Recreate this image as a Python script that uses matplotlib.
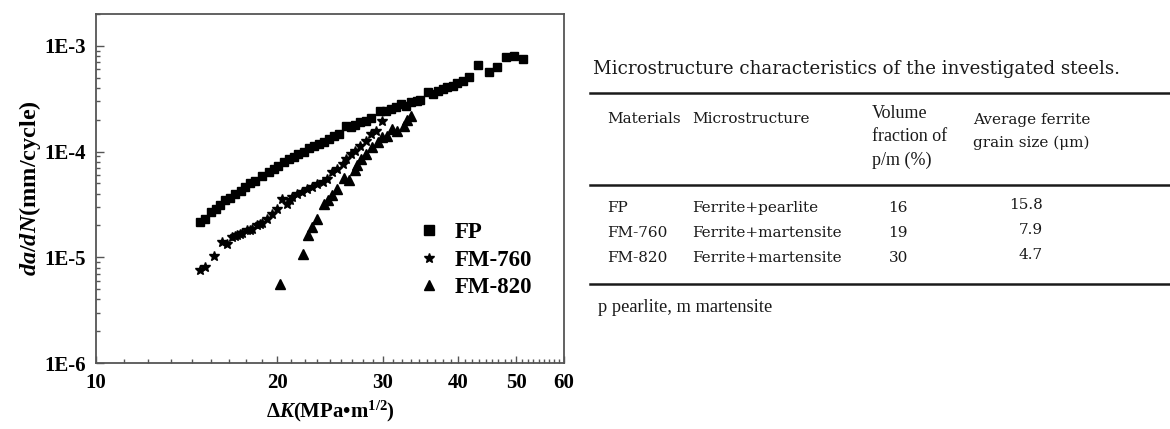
import matplotlib
matplotlib.use('Agg')
import matplotlib.pyplot as plt
from matplotlib.lines import Line2D
from matplotlib.ticker import FixedLocator, FuncFormatter, LogLocator, NullFormatter
import numpy as np

# crack growth data
fp_dk = [14.9, 15.2, 15.5, 15.8, 16.1, 16.4, 16.7, 17.05, 17.4, 17.7, 18.05, 18.4, 18.9,
         19.4, 19.75, 20.1, 20.5, 20.9, 21.3, 21.7, 22.2, 22.6, 23.0, 23.5, 23.9, 24.4,
         24.9, 25.3, 26.0, 26.5, 27.0, 27.5, 28.1, 28.6, 29.7, 30.3, 30.9, 31.5, 32.1,
         32.7, 33.4, 34.2, 34.6, 35.6, 36.3, 37.0, 37.7, 38.4, 39.2, 39.9, 40.7, 41.7,
         43.1, 45.1, 46.5, 48.0, 49.6, 51.2]
fp_rate = [2.15e-5, 2.32e-5, 2.67e-5, 2.88e-5, 3.10e-5, 3.45e-5, 3.66e-5, 3.93e-5, 4.28e-5,
           4.60e-5, 5.02e-5, 5.32e-5, 5.81e-5, 6.38e-5, 6.87e-5, 7.38e-5, 7.93e-5, 8.53e-5,
           8.84e-5, 9.51e-5, 1.00e-4, 1.08e-4, 1.14e-4, 1.18e-4, 1.24e-4, 1.32e-4, 1.39e-4,
           1.47e-4, 1.76e-4, 1.69e-4, 1.79e-4, 1.89e-4, 1.96e-4, 2.08e-4, 2.40e-4, 2.44e-4,
           2.53e-4, 2.62e-4, 2.82e-4, 2.72e-4, 2.92e-4, 3.03e-4, 3.05e-4, 3.63e-4, 3.50e-4,
           3.76e-4, 3.90e-4, 4.04e-4, 4.19e-4, 4.41e-4, 4.67e-4, 5.10e-4, 6.62e-4, 5.60e-4,
           6.24e-4, 7.87e-4, 8.05e-4, 7.49e-4]

fm760_dk = [14.9, 15.2, 15.7, 16.2, 16.5, 16.8, 17.0, 17.15, 17.35, 17.5, 17.8, 18.0, 18.2,
            18.5, 18.7, 18.9, 19.25, 19.6, 20.0, 20.4, 20.8, 21.0, 21.2, 21.6, 22.0, 22.4,
            22.9, 23.3, 23.8, 24.2, 24.7, 25.2, 25.7, 26.0, 26.5, 27.0, 27.5, 28.1, 28.6,
            29.2, 29.9]
fm760_rate = [7.53e-6, 8.11e-6, 1.02e-5, 1.40e-5, 1.33e-5, 1.56e-5, 1.58e-5, 1.64e-5,
              1.66e-5, 1.69e-5, 1.80e-5, 1.82e-5, 1.86e-5, 2.00e-5, 2.05e-5, 2.11e-5,
              2.32e-5, 2.58e-5, 2.88e-5, 3.58e-5, 3.21e-5, 3.45e-5, 3.71e-5, 3.93e-5,
              4.13e-5, 4.45e-5, 4.60e-5, 4.88e-5, 5.13e-5, 5.52e-5, 6.38e-5, 6.87e-5,
              7.65e-5, 8.53e-5, 9.51e-5, 1.02e-4, 1.14e-4, 1.27e-4, 1.45e-4, 1.56e-4,
              1.96e-4]

fm820_dk = [20.2, 22.1, 22.5, 22.9, 23.3, 23.9, 24.3, 24.7, 25.2, 25.8, 26.3, 26.9, 27.2,
            27.6, 28.1, 28.8, 29.4, 29.9, 30.5, 31.1, 31.7, 32.5, 32.9, 33.4]
fm820_rate = [5.65e-6, 1.08e-5, 1.61e-5, 1.93e-5, 2.28e-5, 3.21e-5, 3.50e-5, 3.85e-5,
              4.38e-5, 5.65e-5, 5.41e-5, 6.62e-5, 7.54e-5, 8.53e-5, 9.51e-5, 1.10e-4,
              1.22e-4, 1.36e-4, 1.39e-4, 1.64e-4, 1.58e-4, 1.76e-4, 1.99e-4, 2.19e-4]

# table contents
title = 'Microstructure characteristics of the investigated steels.'
materials = ['FP', 'FM-760', 'FM-820']
microstructure = ['Ferrite+pearlite', 'Ferrite+martensite', 'Ferrite+martensite']
volume_fraction = ['16', '19', '30']
grain_size = ['15.8', '7.9', '4.7']
footnote = 'p pearlite, m martensite'

plt.rcParams['mathtext.fontset'] = 'custom'
plt.rcParams['mathtext.rm'] = 'Liberation Serif:bold'
plt.rcParams['mathtext.it'] = 'Liberation Serif:italic:bold'
plt.rcParams['mathtext.bf'] = 'Liberation Serif:bold'

fig = plt.figure(figsize=(11.7, 4.29), dpi=100)
ax = fig.add_axes([0.0821, 0.1538, 0.4, 0.8136])

ax.plot(fp_dk, fp_rate, 's', color='black', ms=6, label='FP')
ax.plot(fm760_dk, fm760_rate, '*', color='black', ms=7, label='FM-760')
ax.plot(fm820_dk, fm820_rate, '^', color='black', ms=6.5, label='FM-820')

ax.set_xscale('log')
ax.set_yscale('log')
ax.set_xlim(10, 60)
ax.set_ylim(1e-6, 2e-3)

xmaj = [10, 20, 30, 40, 50, 60]
xmin = []
for a, b in zip(xmaj[:-1], xmaj[1:]):
    xmin += list(np.linspace(a, b, 10)[1:-1])
ax.xaxis.set_major_locator(FixedLocator(xmaj))
ax.xaxis.set_minor_locator(FixedLocator(xmin))
ax.xaxis.set_major_formatter(FuncFormatter(lambda v, p: '%d' % round(v)))
ax.xaxis.set_minor_formatter(NullFormatter())

ax.yaxis.set_major_locator(FixedLocator([1e-6, 1e-5, 1e-4, 1e-3]))
ax.yaxis.set_minor_locator(LogLocator(base=10, subs=np.arange(2, 10)))
ax.yaxis.set_major_formatter(FuncFormatter(lambda v, p: '1E%d' % round(np.log10(v))))
ax.yaxis.set_minor_formatter(NullFormatter())

for s in ax.spines.values():
    s.set_color('#555555')
    s.set_linewidth(1.3)
ax.tick_params(which='both', direction='in', color='#555555', width=1.0)
ax.tick_params(which='major', length=5, pad=7)
ax.tick_params(which='minor', length=3)
ax.tick_params(axis='y', which='major', length=6)

for lab in ax.get_xticklabels() + ax.get_yticklabels():
    lab.set_fontfamily('Liberation Serif')
    lab.set_fontweight('bold')
    lab.set_fontsize(15)

ax.set_xlabel('Δ$K$(MPa•m$^{\\mathrm{1/2}}$)', family='Liberation Serif', weight='bold',
              fontsize=15, labelpad=4)
ax.set_ylabel('$da/dN$(mm/cycle)', family='Liberation Serif', weight='bold',
              fontsize=17.5, labelpad=1)

ax.legend(loc='upper left', bbox_to_anchor=(0.64, 0.462), frameon=False,
          prop={'family': 'Liberation Serif', 'weight': 'bold', 'size': 16.5},
          handletextpad=0.6, labelspacing=0.28, markerscale=1.1, handlelength=1.1)

# table on the right
serif = 'DejaVu Serif'
times = 'Liberation Serif'
W, H = 1170.0, 429.0
def fx(px):
    return px / W
def fy(py):
    return 1 - py / H

ink = '#1a1a1a'
fig.text(fx(593), fy(69), title, family=serif, fontsize=13.15, va='center', color=ink)
for py in [93, 185, 284]:
    fig.add_artist(Line2D([fx(590), 1.0], [fy(py), fy(py)], color=ink, lw=1.8))

fig.text(fx(607), fy(119), 'Materials', family=serif, fontsize=11, va='center', color=ink)
fig.text(fx(692), fy(119), 'Microstructure', family=serif, fontsize=11, va='center', color=ink)
fig.text(fx(872), fy(137), 'Volume\nfraction of\np/m (%)', family=times, fontsize=13,
         va='center', linespacing=1.45, color=ink)
fig.text(fx(973), fy(131.5), 'Average ferrite\ngrain size (μm)', family=serif, fontsize=11,
         va='center', linespacing=1.8, color=ink)

row_y = [208, 233, 258]
for i in range(3):
    fig.text(fx(607), fy(row_y[i]), materials[i], family=serif, fontsize=11, va='center', color=ink)
    fig.text(fx(692), fy(row_y[i]), microstructure[i], family=serif, fontsize=11, va='center', color=ink)
    fig.text(fx(908), fy(row_y[i]), volume_fraction[i], family=serif, fontsize=11, va='center',
             ha='right', color=ink)
    fig.text(fx(1043), fy(row_y[i] - 3), grain_size[i], family=serif, fontsize=11, va='center',
             ha='right', color=ink)

fig.text(fx(598), fy(307), footnote, family=times, fontsize=13.2, va='center', color=ink)

fig.savefig('out.png', dpi=100)
